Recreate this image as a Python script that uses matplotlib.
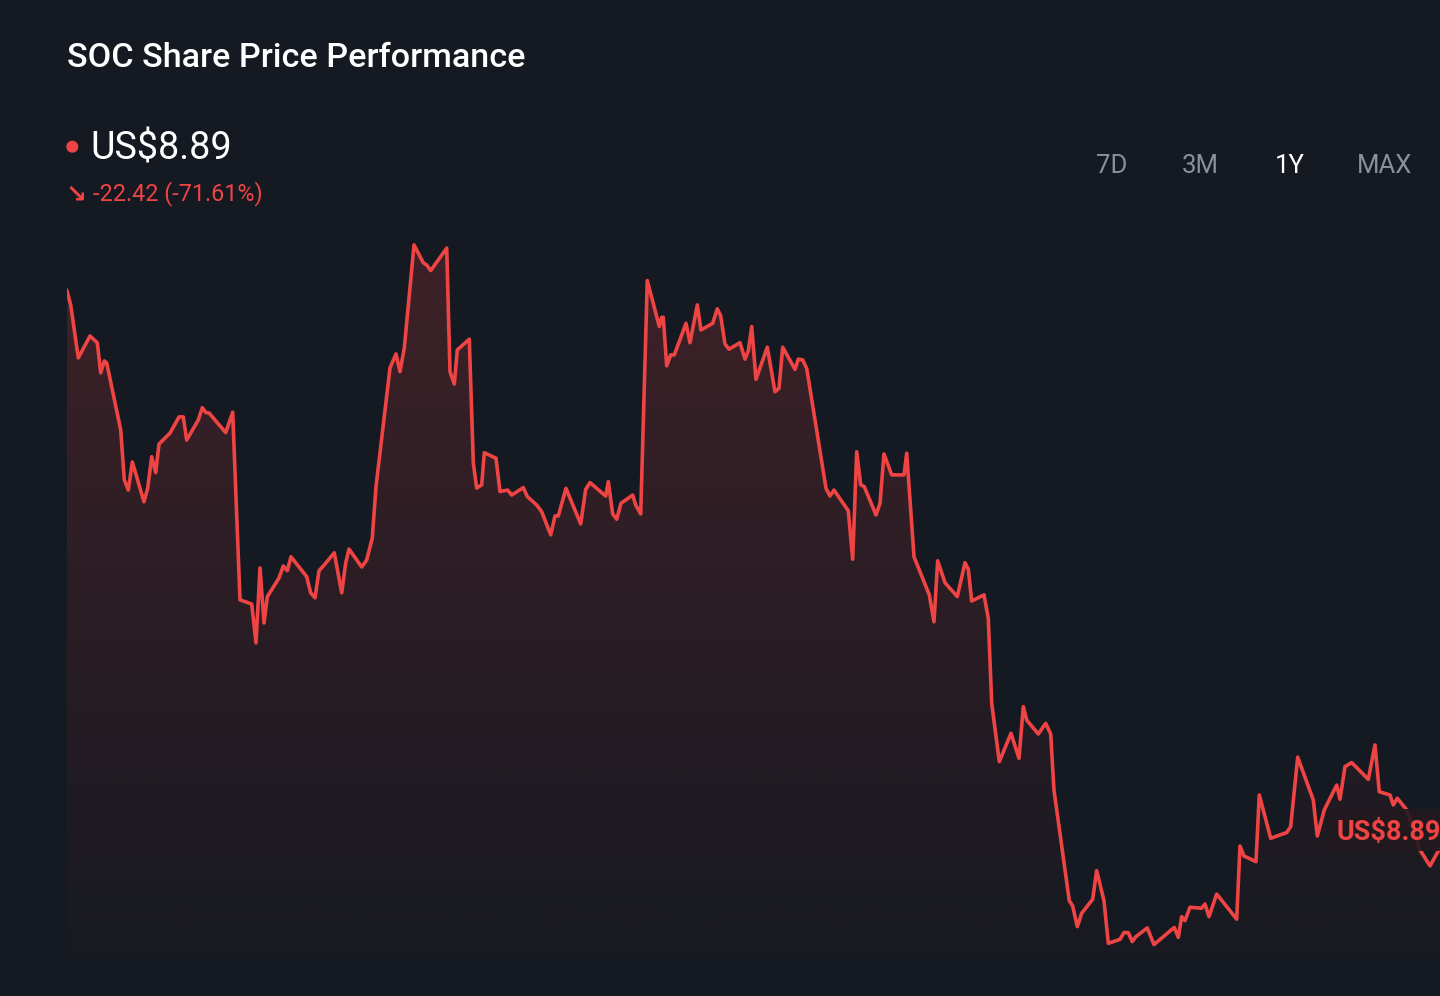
import numpy as np
import matplotlib
matplotlib.use("Agg")
import matplotlib.pyplot as plt
from matplotlib.patches import FancyBboxPatch, Circle

# ---------------- data ----------------
days = [0, 1.06, 3.08, 6.19, 8.13, 9.04, 9.99, 10.63, 14.35, 15.31, 16.37, 17.44,
        20.54, 21.53, 22.59, 23.65, 24.53, 27.46, 29.85, 30.99, 31.89, 34.98, 36.04,
        37.02, 37.82, 42.26, 44.12, 46.06, 49.17, 50.31, 51.38, 52.44, 53.32, 56.43,
        57.57, 58.63, 59.61, 63.79, 64.85, 65.99, 67.06, 68.65, 71.12, 73.09, 74.15,
        75.03, 78.41, 79.73, 81.22, 82.21, 85.93, 87.52, 88.58, 89.73, 92.31, 94.78,
        95.68, 96.74, 101.0, 101.87, 103.02, 103.81, 107.0, 108.07, 108.97, 110.30,
        110.99, 114.10, 115.16, 117.21, 118.27, 121.36, 122.42, 124.92, 126.25,
        128.64, 129.78, 130.66, 132.70, 136.61, 137.94, 139.08, 143.26, 143.95,
        145.12, 146.18, 147.32, 150.43, 151.23, 152.56, 154.31, 157.50, 158.14,
        158.56, 159.47, 160.53, 161.49, 164.60, 165.66, 167.60, 168.58, 171.69,
        172.92, 173.82, 174.96, 176.03, 178.95, 180.28, 181.16, 182.06, 183.20,
        186.21, 188.25, 189.32, 190.30, 193.57, 194.44, 195.61, 196.68, 201.81,
        202.87, 203.93, 207.73, 208.90, 209.97, 211.03, 211.98, 215.10, 216.16,
        217.22, 219.27, 222.54, 223.26, 225.20, 229.26, 230.51, 231.49, 233.43,
        236.70, 238.75, 239.63, 240.53, 243.80, 244.94, 245.85, 247.87, 250.98,
        253.10, 254.25, 255.15, 258.23, 260.20, 261.53, 262.40, 266.47, 267.37,
        268.60, 269.77, 272.69, 273.75, 275.69, 276.84, 279.95, 281.01, 282.15,
        283.21, 284.20, 287.20, 288.98, 294.38, 295.44, 296.34, 297.22, 298.55,
        301.66, 302.54, 303.60, 305.65, 310.96, 311.84, 312.90, 316.09, 316.97,
        320.0, 324.25, 325.31, 327.18, 331.32, 332.39, 334.24, 337.54, 338.42,
        339.75, 341.53, 345.94, 347.72, 348.86, 351.71, 352.59, 353.65, 356.15,
        359.69, 362.34, 365.0]

prices = [31.31, 30.71, 28.58, 29.46, 29.19, 27.98, 28.46, 28.38, 25.69, 23.68, 23.27,
          24.40, 22.80, 23.35, 24.61, 23.97, 25.12, 25.56, 26.21, 26.21, 25.28, 26.09,
          26.58, 26.38, 26.37, 25.58, 26.40, 18.86, 18.69, 17.13, 20.14, 17.93, 18.99,
          19.74, 20.22, 20.03, 20.59, 19.79, 19.14, 18.94, 20.03, 20.30, 20.75, 19.14,
          20.34, 20.90, 20.18, 20.46, 21.35, 23.41, 28.18, 28.74, 28.03, 28.98, 33.12,
          32.40, 32.31, 32.09, 32.99, 28.03, 27.53, 28.90, 29.33, 24.36, 23.35, 23.48,
          24.77, 24.55, 23.21, 23.27, 23.07, 23.37, 23.01, 22.67, 22.40, 21.47, 22.23,
          22.23, 23.34, 21.91, 23.30, 23.57, 23.03, 23.61, 22.31, 22.10, 22.74, 23.07,
          22.67, 22.31, 31.69, 29.84, 30.21, 30.21, 28.26, 28.70, 28.70, 29.97, 29.19,
          30.71, 29.70, 29.97, 30.55, 30.27, 29.14, 28.93, 29.19, 28.53, 28.87, 29.84,
          27.72, 29.01, 27.22, 27.36, 29.01, 28.12, 28.53, 28.50, 28.16, 23.34, 23.03,
          23.27, 22.44, 20.49, 24.81, 23.48, 23.41, 22.27, 22.74, 24.72, 23.88, 23.88,
          24.75, 20.59, 19.06, 17.98, 20.43, 19.55, 18.99, 20.35, 20.09, 18.81, 19.06,
          18.12, 14.70, 12.36, 13.50, 12.49, 14.57, 14.03, 13.47, 13.90, 13.47, 11.22,
          6.77, 6.56, 5.73, 6.27, 6.83, 7.98, 6.77, 5.06, 5.22, 5.49, 5.49, 5.13, 5.33,
          5.68, 5.01, 5.70, 5.30, 6.13, 5.97, 6.51, 6.47, 6.64, 6.13, 7.04, 6.03, 8.97,
          8.57, 8.34, 11.02, 9.28, 9.51, 9.75, 12.54, 10.82, 9.37, 10.42, 11.42, 10.85,
          12.16, 12.32, 11.65, 13.03, 11.15, 11.02, 10.62, 10.89, 10.42, 8.81, 8.17,
          8.89]

title = "SOC Share Price Performance"
last_price_label = "US$8.89"
change_label = "-22.42 (-71.61%)"
ranges = ["7D", "3M", "1Y", "MAX"]
active_range = "1Y"

# ---------------- style ----------------
W, H = 1440, 996
BG = "#151921"
RED = "#ef4444"
GREY = "#8a8f98"
FONT = ["Roboto", "DejaVu Sans"]
plt.rcParams["font.family"] = FONT

fig = plt.figure(figsize=(W / 100, H / 100), dpi=100, facecolor=BG)


def fx(px):
    return px / W


def fy(py):
    return 1 - py / H


# plot axes: x from 66.7 px to right edge, y from 220 px to 960 px
ax_top, ax_bot = 220, 960
ax = fig.add_axes([fx(66.7), fy(ax_bot), 1 - fx(66.7), (ax_bot - ax_top) / H])
ax.set_facecolor(BG)
ymin, ymax = 4.39, 34.12
ax.set_xlim(0, 365)
ax.set_ylim(ymin, ymax)
ax.axis("off")

# gradient fill under the line
poly = ax.fill_between(days, prices, ymin, color="none", lw=0)
rgb = matplotlib.colors.to_rgb(RED)
n = 256
img = np.zeros((n, 1, 4))
img[..., 0], img[..., 1], img[..., 2] = rgb
img[:, 0, 3] = np.linspace(0.20, 0.015, n)
im = ax.imshow(img, extent=[0, 365, ymin, ymax], aspect="auto", origin="upper",
               zorder=1, interpolation="bilinear")
im.set_clip_path(poly.get_paths()[0], transform=ax.transData)

ax.plot(days, prices, color=RED, lw=2.6, solid_joinstyle="round",
        solid_capstyle="round", zorder=3)

# ---------------- texts ----------------
fig.text(fx(67), fy(66.7), title, color="white", fontsize=24.6, fontweight="medium",
         va="baseline", ha="left")

dot = Circle((72.3, H - 146.7), 5.3, transform=None, color=RED, zorder=5)
fig.patches.append(dot)
fig.text(fx(90), fy(159.3), last_price_label, color="white", fontsize=27.2,
         va="baseline", ha="left")

fig.text(fx(66), fy(201), "\u2198", color=RED, fontsize=18, fontweight="bold",
         family=["DejaVu Sans"], va="baseline", ha="left")
fig.text(fx(93), fy(200), change_label, color=RED, fontsize=16.8, va="baseline",
         ha="left")

centers = [1111.7, 1200, 1289.3, 1385]
for lab, cx in zip(ranges, centers):
    fig.text(fx(cx), fy(173.3), lab, color="white" if lab == active_range else GREY,
             fontsize=18.5, va="baseline", ha="center")

# end-of-line price tag
box = FancyBboxPatch((fx(1326), fy(851)), fx(130), (851 - 809) / H,
                     boxstyle="round,pad=0,rounding_size=0.004",
                     transform=fig.transFigure, facecolor="#22191e", alpha=0.9,
                     edgecolor="none", zorder=6)
fig.patches.append(box)
fig.text(fx(1336), fy(840), last_price_label, color=RED, fontsize=19.5,
         fontweight="bold", va="baseline", ha="left", zorder=7)

fig.savefig("out.png", dpi=100, facecolor=BG)
